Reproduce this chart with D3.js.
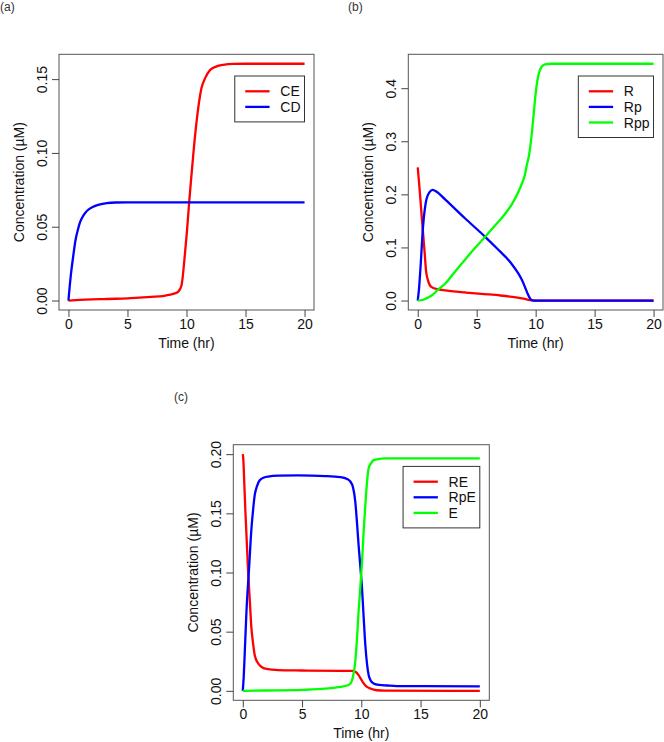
<!DOCTYPE html>
<html><head><meta charset="utf-8">
<script src="https://cdn.jsdelivr.net/npm/d3@7"></script>
<style>
body{margin:0;background:#fff}
svg{display:block}
text{font-family:"Liberation Sans",Arial,sans-serif}
</style>
</head><body>
<svg id="chart" width="664" height="742"></svg>
<script>
// ---------- data ----------
const xTicks = [0, 5, 10, 15, 20];
const xTickLabels = ["0", "5", "10", "15", "20"];
const xTitle = "Time (hr)";
const yTitle = "Concentration (\u00b5M)";

// Panel (a)
const yTicksA = [0, 0.05, 0.10, 0.15];
const yTickLabelsA = ["0.00", "0.05", "0.10", "0.15"];
const namesA = ["CE", "CD"];
const timeCE = [0, 1, 2, 3, 4, 5, 6, 7, 8, 8.6, 9.0, 9.3, 9.58, 9.86, 10.05, 10.23, 10.4, 10.57, 10.85, 11.27, 11.6, 11.98, 12.5, 13.1, 14, 15, 20];
const valCE  = [0, 0.0005, 0.0008, 0.001, 0.0012, 0.0015, 0.002, 0.0025, 0.003, 0.004, 0.0048, 0.0060, 0.0104, 0.031, 0.048, 0.067, 0.083, 0.0986, 0.121, 0.144, 0.151, 0.156, 0.1585, 0.1597, 0.1603, 0.1604, 0.1604];
const timeCD = [0, 0.1, 0.2, 0.42, 0.6, 0.8, 1.0, 1.3, 1.6, 2.1, 2.6, 3.25, 4, 5, 20];
const valCD  = [0, 0.009, 0.017, 0.031, 0.041, 0.048, 0.0534, 0.058, 0.061, 0.0635, 0.065, 0.066, 0.0664, 0.0665, 0.0665];

// Panel (b)
const yTicksB = [0, 0.1, 0.2, 0.3, 0.4];
const yTickLabelsB = ["0.0", "0.1", "0.2", "0.3", "0.4"];
const namesB = ["R", "Rp", "Rpp"];
const timeR = [0, 0.14, 0.36, 0.59, 0.70, 0.87, 1.15, 1.78, 2.34, 3, 4, 5.16, 6, 7, 8, 9, 9.53, 10, 20];
const valR  = [0.2507, 0.2148, 0.152, 0.089, 0.057, 0.038, 0.0257, 0.0208, 0.019, 0.0172, 0.0152, 0.013, 0.0115, 0.0095, 0.007, 0.0035, 0.0008, 0, 0];
const timeRp = [0, 0.1, 0.22, 0.45, 0.73, 1.0, 1.27, 1.6, 2.34, 4, 5.72, 7, 7.5, 8.0, 8.5, 8.83, 9.1, 9.3, 9.5, 9.7, 10, 20];
const valRp  = [0, 0.02, 0.057, 0.139, 0.19, 0.204, 0.2085, 0.205, 0.19, 0.155, 0.12, 0.092, 0.081, 0.068, 0.052, 0.039, 0.025, 0.014, 0.005, 0.0005, 0, 0];
const timeRpp = [0, 0.4, 0.8, 1.21, 1.7, 2.34, 3, 3.75, 4.7, 5.72, 6.5, 7.4, 8.0, 8.5, 8.83, 9.1, 9.25, 9.45, 9.6, 9.72, 9.85, 10.0, 10.15, 10.3, 10.5, 10.8, 11.3, 12, 20];
const valRpp  = [0, 0.001, 0.005, 0.01, 0.02, 0.032, 0.05, 0.07, 0.095, 0.12, 0.14, 0.163, 0.182, 0.203, 0.22, 0.238, 0.255, 0.275, 0.3, 0.325, 0.355, 0.39, 0.415, 0.43, 0.44, 0.445, 0.446, 0.446, 0.446];

// Panel (c)
const yTicksC = [0, 0.05, 0.10, 0.15, 0.20];
const yTickLabelsC = ["0.00", "0.05", "0.10", "0.15", "0.20"];
const namesC = ["RE", "RpE", "E"];
const timeRE = [0, 0.05, 0.11, 0.22, 0.45, 0.6, 0.73, 0.87, 1.01, 1.25, 1.57, 2.0, 2.98, 5, 8.22, 9.35, 9.55, 9.77, 10.0, 10.2, 10.45, 10.76, 11.3, 12, 20];
const valRE  = [0.2, 0.195, 0.18, 0.1515, 0.1007, 0.075, 0.0528, 0.04, 0.030, 0.024, 0.0203, 0.0185, 0.0175, 0.0172, 0.0169, 0.0169, 0.0158, 0.0133, 0.0095, 0.0063, 0.0035, 0.002, 0.0005, 0.0001, 0];
const timeRpE = [0, 0.08, 0.17, 0.31, 0.53, 0.73, 0.87, 1.01, 1.2, 1.43, 1.8, 2.14, 3, 4.67, 7, 8.22, 8.8, 9.07, 9.3, 9.49, 9.63, 9.77, 9.92, 10.06, 10.2, 10.34, 10.48, 10.62, 10.8, 11.04, 11.5, 12.17, 13, 20];
const valRpE  = [0, 0.012, 0.033, 0.067, 0.1036, 0.137, 0.153, 0.1656, 0.173, 0.178, 0.1803, 0.1811, 0.1818, 0.182, 0.1815, 0.1806, 0.179, 0.1769, 0.172, 0.16, 0.143, 0.1233, 0.105, 0.0867, 0.062, 0.0387, 0.023, 0.0133, 0.0085, 0.0063, 0.005, 0.0045, 0.004, 0.0038];
const timeE = [0, 2, 5, 7, 8.22, 8.8, 9.07, 9.3, 9.49, 9.63, 9.77, 9.92, 10.06, 10.2, 10.34, 10.48, 10.62, 10.8, 11.04, 11.5, 12, 20];
const valE  = [0, 0.0003, 0.0008, 0.0018, 0.0034, 0.0045, 0.006, 0.012, 0.0245, 0.043, 0.0669, 0.088, 0.109, 0.135, 0.157, 0.176, 0.188, 0.192, 0.195, 0.196, 0.1964, 0.1964];

const lineColors = ["#ff0000", "#0000ff", "#00ff00"];

// ---------- drawing ----------
const svg = d3.select("#chart");
svg.append("rect").attr("width", 664).attr("height", 742).attr("fill", "#fff");

function drawPanel(cfg) {
  const { left, top, w, h, series, names, yTicks, yLabels, tag, tagX, tagY } = cfg;
  const allT = series.flatMap(s => s.t);
  const allV = series.flatMap(s => s.v);
  const [t0, t1] = d3.extent(allT);
  const [v0, v1] = d3.extent(allV);
  const px = (t1 - t0) * 0.04, py = (v1 - v0) * 0.04;
  const x = d3.scaleLinear().domain([t0 - px, t1 + px]).range([left, left + w]);
  const y = d3.scaleLinear().domain([v0 - py, v1 + py]).range([top + h, top]);
  const g = svg.append("g");

  const line = d3.line().x(d => x(d[0])).y(d => y(d[1])).curve(d3.curveMonotoneX);
  series.forEach((s, i) => {
    g.append("path")
      .datum(d3.zip(s.t, s.v))
      .attr("d", line)
      .attr("fill", "none")
      .attr("stroke", lineColors[i])
      .attr("stroke-width", 2.3)
      .attr("stroke-linejoin", "round");
  });

  g.append("rect").attr("x", left).attr("y", top).attr("width", w).attr("height", h)
    .attr("fill", "none").attr("stroke", "#555").attr("stroke-width", 1);

  // x axis
  const xa = g.append("g").attr("transform", `translate(0,${top + h})`)
    .call(d3.axisBottom(x).tickValues(xTicks).tickFormat((d, i) => xTickLabels[i]).tickSize(7).tickSizeOuter(0))
    .attr("font-size", 14).attr("font-family", '"Liberation Sans",Arial,sans-serif');
  xa.select(".domain").remove();
  xa.selectAll(".tick line").attr("stroke", "#444");
  xa.selectAll(".tick text").attr("y", 19).attr("dy", 0).attr("fill", "#111");

  // y axis
  const ya = g.append("g").attr("transform", `translate(${left},0)`)
    .call(d3.axisLeft(y).tickValues(yTicks).tickFormat((d, i) => yLabels[i]).tickSize(7).tickSizeOuter(0))
    .attr("font-size", 14).attr("font-family", '"Liberation Sans",Arial,sans-serif');
  ya.select(".domain").remove();
  ya.selectAll(".tick line").attr("stroke", "#444");
  ya.selectAll(".tick text")
    .attr("transform", "rotate(-90)")
    .attr("x", 0).attr("y", -12).attr("dy", 0)
    .attr("text-anchor", "middle").attr("fill", "#111");

  // titles
  g.append("text").attr("x", left + w / 2).attr("y", top + h + 38)
    .attr("text-anchor", "middle").attr("font-size", 14).attr("fill", "#111").text(xTitle);
  g.append("text")
    .attr("transform", `translate(${left - 35},${top + h / 2}) rotate(-90)`)
    .attr("text-anchor", "middle").attr("font-size", 14).attr("fill", "#111").text(yTitle);

  // panel tag
  g.append("text").attr("x", tagX).attr("y", tagY).attr("font-size", 12).attr("fill", "#333").text(tag);

  // legend
  const lg = g.append("g");
  const box = lg.append("rect").attr("fill", "#fff").attr("stroke", "#333").attr("stroke-width", 1);
  let maxW = 0;
  names.forEach((n, i) => {
    const cy = 15.3 + i * 15.6;
    lg.append("line").attr("x1", 10.5).attr("x2", 34.8).attr("y1", cy).attr("y2", cy)
      .attr("stroke", lineColors[i]).attr("stroke-width", 2.3);
    const t = lg.append("text").attr("x", 45.5).attr("y", cy + 5).attr("font-size", 14).attr("fill", "#111").text(n);
    maxW = Math.max(maxW, t.node().getComputedTextLength());
  });
  const lw = 45.5 + maxW + 4;
  const lh = 15.3 + (names.length - 1) * 15.6 + 15;
  box.attr("x", 0).attr("y", 0).attr("width", lw).attr("height", lh);
  lg.attr("transform", `translate(${left + w - 9.5 - lw},${top + 21.7})`);
}

drawPanel({
  left: 59, top: 54.3, w: 255, h: 255.7,
  series: [{ t: timeCE, v: valCE }, { t: timeCD, v: valCD }],
  names: namesA, yTicks: yTicksA, yLabels: yTickLabelsA,
  tag: "(a)", tagX: 0, tagY: 11
});
drawPanel({
  left: 408.3, top: 54.3, w: 254.7, h: 255.7,
  series: [{ t: timeR, v: valR }, { t: timeRp, v: valRp }, { t: timeRpp, v: valRpp }],
  names: namesB, yTicks: yTicksB, yLabels: yTickLabelsB,
  tag: "(b)", tagX: 348, tagY: 11
});
drawPanel({
  left: 233.3, top: 444.7, w: 256, h: 255.6,
  series: [{ t: timeRE, v: valRE }, { t: timeRpE, v: valRpE }, { t: timeE, v: valE }],
  names: namesC, yTicks: yTicksC, yLabels: yTickLabelsC,
  tag: "(c)", tagX: 174, tagY: 401
});
</script>
</body></html>
